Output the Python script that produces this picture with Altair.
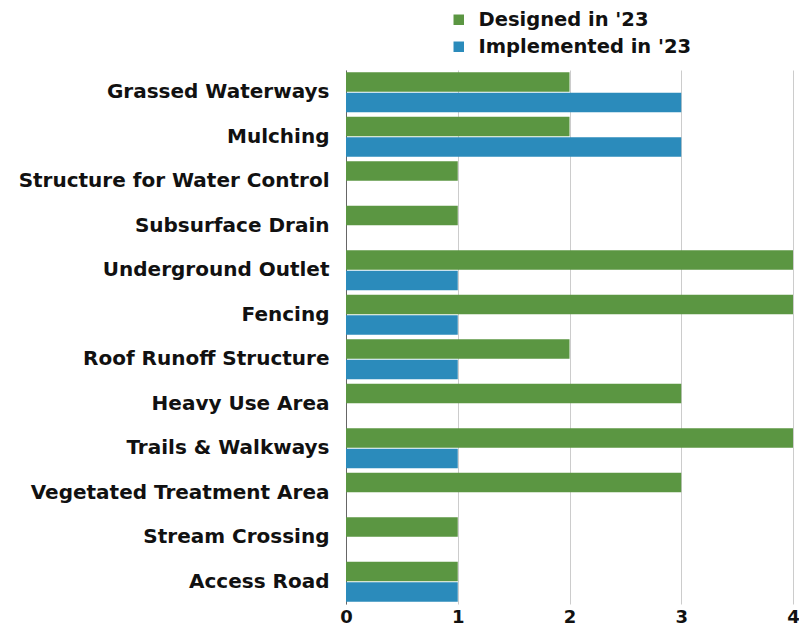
import altair as alt
import pandas as pd

categories = ["Grassed Waterways", "Mulching", "Structure for Water Control", "Subsurface Drain",
              "Underground Outlet", "Fencing", "Roof Runoff Structure", "Heavy Use Area",
              "Trails & Walkways", "Vegetated Treatment Area", "Stream Crossing", "Access Road"]
designed = [2, 2, 1, 1, 4, 4, 2, 3, 4, 3, 1, 1]
implemented = [3, 3, 0, 0, 1, 1, 1, 0, 1, 0, 0, 1]
series = ["Designed in '23", "Implemented in '23"]
colors = ["#5b9642", "#2b8bbb"]

rows = []
for c, d, i in zip(categories, designed, implemented):
    rows.append({"practice": c, "series": series[0], "count": d})
    rows.append({"practice": c, "series": series[1], "count": i})
df = pd.DataFrame(rows)

FONT = "DejaVu Sans"

chart = alt.Chart(df).mark_bar().encode(
    y=alt.Y("practice:N", sort=categories, title=None,
            scale=alt.Scale(paddingInner=0.1, paddingOuter=0.05),
            axis=alt.Axis(labelFont=FONT, labelFontSize=20, labelFontWeight="bold",
                          labelColor="#111", labelPadding=17, ticks=False,
                          domain=True, domainColor="#666", domainWidth=1, grid=False,
                          labelLimit=400)),
    yOffset=alt.YOffset("series:N", sort=series, scale=alt.Scale(paddingInner=0.05)),
    x=alt.X("count:Q", title=None, scale=alt.Scale(domain=[0, 4], nice=False),
            axis=alt.Axis(values=[0, 1, 2, 3, 4], format="d", labelFont=FONT, labelFontSize=18,
                          labelFontWeight="bold", labelColor="#111", ticks=False, domain=False,
                          grid=True, gridColor="#cccccc", gridWidth=1, labelPadding=4,
                          labelFlush=False)),
    color=alt.Color("series:N", sort=series, scale=alt.Scale(domain=series, range=colors),
                    legend=alt.Legend(title=None, orient="none", legendX=103, legendY=-60,
                                      symbolType="square", symbolSize=110, symbolStrokeWidth=0,
                                      labelFont=FONT, labelFontSize=19.5, labelFontWeight="bold",
                                      labelColor="#111", rowPadding=6, labelOffset=10,
                                      labelLimit=400)),
).properties(
    width=447, height=534,
    autosize=alt.AutoSizeParams(type="none"),
    padding={"left": 338, "top": 62, "right": 6, "bottom": 25},
).configure_view(stroke=None)

chart.save("out.html", embed_options={"renderer": "svg", "actions": False})
